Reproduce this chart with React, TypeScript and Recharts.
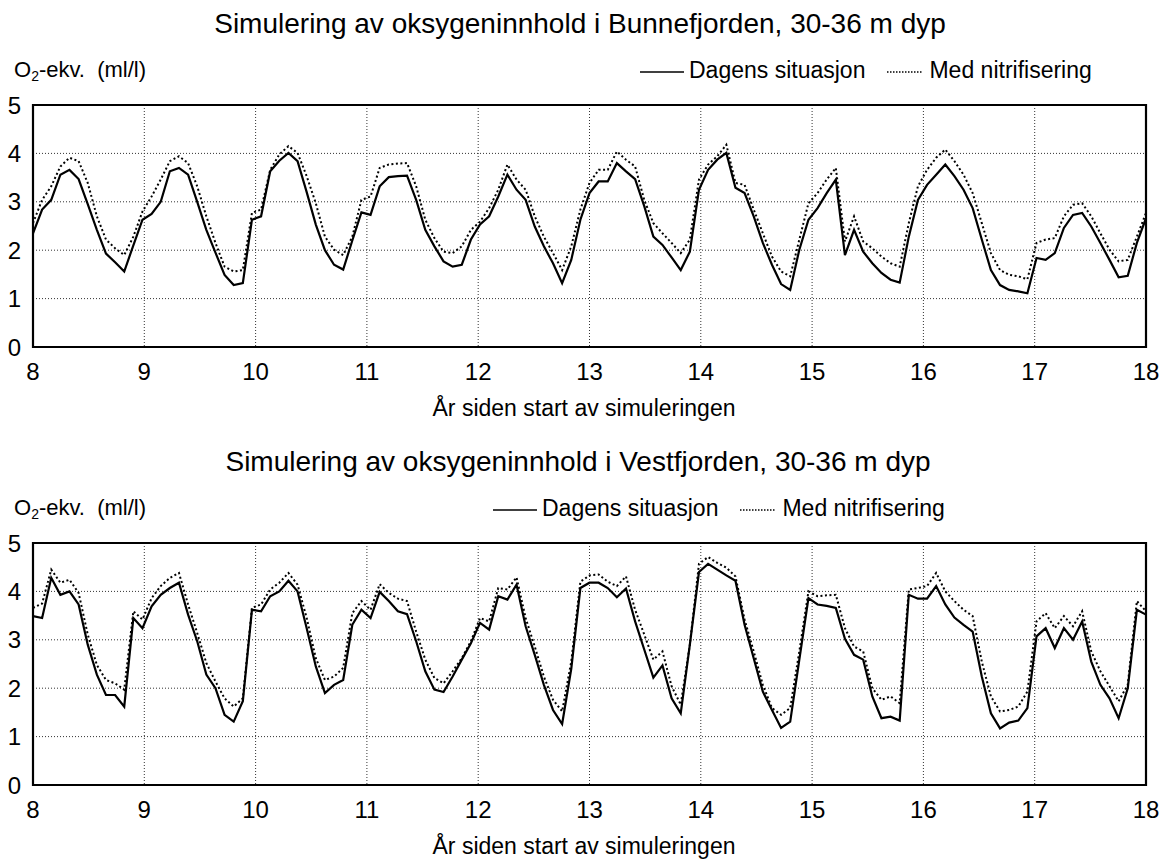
import { LineChart, Line, XAxis, YAxis, CartesianGrid, ReferenceArea } from 'recharts';

const FONT = '"Liberation Sans", Arial, Helvetica, sans-serif';

const yearTicks = [8, 9, 10, 11, 12, 13, 14, 15, 16, 17, 18];
const valueTicks = [0, 1, 2, 3, 4, 5];
const minorTicks = [0.5, 1.5, 2.5, 3.5, 4.5];

const seriesNames = { dagens: 'Dagens situasjon', med: 'Med nitrifisering' };
const xTitle = 'År siden start av simuleringen';

// Bunnefjorden, 30-36 m
const bunnDagens = [
    2.35, 2.84, 3.04, 3.56, 3.66, 3.47, 2.95, 2.42, 1.93, 1.75,
    1.56, 2.1, 2.63, 2.75, 3.0, 3.63, 3.7, 3.56, 3.0, 2.42,
    1.95, 1.49, 1.28, 1.32, 2.63, 2.7, 3.63, 3.85, 4.01, 3.84,
    3.2, 2.53, 2.0, 1.7, 1.6, 2.2, 2.78, 2.73, 3.32, 3.51,
    3.53, 3.54, 3.04, 2.42, 2.08, 1.77, 1.66, 1.7, 2.22, 2.53,
    2.7, 3.11, 3.56, 3.25, 3.04, 2.49, 2.08, 1.73, 1.32, 1.8,
    2.63, 3.18, 3.42, 3.42, 3.8, 3.63, 3.47, 2.91, 2.28, 2.11,
    1.85, 1.59, 1.97, 3.25, 3.66, 3.87, 4.01, 3.29, 3.18, 2.7,
    2.15, 1.7, 1.3, 1.18, 2.01, 2.63, 2.87, 3.18, 3.46, 1.9,
    2.42, 1.97, 1.73, 1.53, 1.39, 1.33, 2.28, 3.04, 3.35, 3.56,
    3.77, 3.53, 3.25, 2.87, 2.22, 1.59, 1.28, 1.18, 1.15, 1.11,
    1.84, 1.8, 1.94, 2.46, 2.73, 2.77, 2.49, 2.15, 1.8, 1.44,
    1.47, 2.15, 2.66,
];
const bunnMed = [
    2.56, 3.04, 3.32, 3.73, 3.91, 3.84, 3.39, 2.7, 2.22, 2.04,
    1.9, 2.28, 2.8, 3.11, 3.46, 3.84, 3.94, 3.8, 3.32, 2.7,
    2.15, 1.66, 1.56, 1.59, 2.77, 2.84, 3.66, 3.98, 4.15, 4.01,
    3.53, 2.97, 2.28, 2.01, 1.9, 2.28, 3.04, 3.11, 3.7, 3.77,
    3.79, 3.8, 3.32, 2.63, 2.25, 1.97, 1.94, 2.08, 2.42, 2.59,
    2.87, 3.25, 3.77, 3.46, 3.25, 2.7, 2.28, 1.94, 1.59, 2.08,
    2.84, 3.39, 3.66, 3.66, 4.04, 3.87, 3.73, 3.04, 2.56, 2.35,
    2.15, 1.94, 2.22, 3.46, 3.77, 3.94, 4.18, 3.39, 3.35, 2.84,
    2.35, 1.87, 1.56, 1.46, 2.22, 2.97, 3.18, 3.46, 3.7, 2.18,
    2.7, 2.18, 2.04, 1.87, 1.73, 1.66, 2.56, 3.32, 3.66, 3.91,
    4.08, 3.84, 3.56, 3.18, 2.56, 1.94, 1.59, 1.49, 1.46, 1.4,
    2.15, 2.22, 2.25, 2.7, 2.94, 2.97, 2.7, 2.35, 2.01, 1.77,
    1.8, 2.28, 2.77,
];

// Vestfjorden, 30-36 m
const vestDagens = [
    3.49, 3.45, 4.28, 3.93, 4.0, 3.73, 2.9, 2.28, 1.86, 1.86,
    1.62, 3.45, 3.24, 3.69, 3.93, 4.07, 4.18, 3.52, 2.97, 2.28,
    2.0, 1.45, 1.31, 1.73, 3.62, 3.59, 3.9, 4.0, 4.22, 4.0,
    3.24, 2.45, 1.9, 2.07, 2.17, 3.31, 3.62, 3.45, 3.99, 3.8,
    3.59, 3.53, 2.97, 2.35, 1.97, 1.92, 2.24, 2.59, 2.93, 3.35,
    3.21, 3.9, 3.83, 4.14, 3.28, 2.69, 2.07, 1.55, 1.26, 2.4,
    4.07, 4.18, 4.18, 4.07, 3.88, 4.06, 3.38, 2.8, 2.22, 2.47,
    1.79, 1.48, 2.9, 4.4, 4.57, 4.45, 4.33, 4.22, 3.31, 2.62,
    1.93, 1.55, 1.18, 1.31, 2.59, 3.86, 3.73, 3.7, 3.66, 3.02,
    2.69, 2.59, 1.83, 1.38, 1.41, 1.33, 3.93, 3.85, 3.85, 4.11,
    3.73, 3.46, 3.31, 3.17, 2.24, 1.48, 1.17, 1.29, 1.33, 1.59,
    3.07, 3.24, 2.83, 3.24, 3.0, 3.38, 2.55, 2.07, 1.79, 1.38,
    2.0, 3.62, 3.52,
];
const vestMed = [
    3.66, 3.75, 4.45, 4.18, 4.24, 3.97, 3.11, 2.48, 2.17, 2.1,
    1.97, 3.59, 3.42, 3.86, 4.11, 4.28, 4.38, 3.73, 3.14, 2.52,
    2.14, 1.79, 1.62, 1.79, 3.66, 3.73, 4.04, 4.18, 4.38, 4.14,
    3.45, 2.62, 2.17, 2.24, 2.42, 3.55, 3.8, 3.62, 4.15, 3.97,
    3.85, 3.8, 3.17, 2.59, 2.21, 2.1, 2.35, 2.62, 2.97, 3.45,
    3.38, 4.07, 4.04, 4.29, 3.45, 2.86, 2.24, 1.76, 1.52, 2.55,
    4.2, 4.33, 4.35, 4.2, 4.11, 4.31, 3.62, 3.11, 2.59, 2.76,
    2.04, 1.66, 2.9, 4.57, 4.71, 4.59, 4.49, 4.31, 3.42, 2.76,
    2.07, 1.59, 1.45, 1.59, 2.76, 4.0, 3.9, 3.92, 3.93, 3.24,
    2.86, 2.76, 2.0, 1.76, 1.83, 1.69, 4.04, 4.07, 4.11, 4.38,
    4.0, 3.8, 3.62, 3.49, 2.55, 1.83, 1.52, 1.55, 1.62, 1.93,
    3.38, 3.55, 3.24, 3.49, 3.28, 3.59, 2.76, 2.35, 2.04, 1.73,
    2.07, 3.8, 3.59,
];

// one model step is about 30 days: 122 steps from year 8 to year 18
const stepYears = 10 / 122;

type PanelProps = {
    top: number;
    title: string;
    titleCenter: number;
    legendLeft: number;
    dagens: number[];
    med: number[];
};

function LegendRow({ left }: { left: number }) {
    return (
        <div
            style={{
                position: 'absolute',
                left,
                top: 59,
                display: 'flex',
                alignItems: 'center',
                fontSize: 23,
                lineHeight: '23px',
                whiteSpace: 'nowrap',
            }}
        >
            <svg width={44} height={10}>
                <line x1={0} y1={6} x2={44} y2={6} stroke="#000" strokeWidth={1.6} />
            </svg>
            <span style={{ marginLeft: 5 }}>{seriesNames.dagens}</span>
            <svg width={36} height={10} style={{ marginLeft: 22 }}>
                <line x1={0} y1={6} x2={36} y2={6} stroke="#000" strokeWidth={1.4} strokeDasharray="1.5 1.5" />
            </svg>
            <span style={{ marginLeft: 6 }}>{seriesNames.med}</span>
        </div>
    );
}

function Panel({ top, title, titleCenter, legendLeft, dagens, med }: PanelProps) {
    const rows = dagens.map((v, i) => ({ year: 8 + i * stepYears, dagens: v, med: med[i] }));
    const tickStyle = { fill: '#000', fontSize: 24, fontFamily: FONT };

    return (
        <div style={{ position: 'absolute', left: 0, top, width: 1166, height: 430 }}>
            <LineChart
                width={1166}
                height={430}
                data={rows}
                margin={{ top: 105, right: 20, bottom: 43, left: 8 }}
            >
                <CartesianGrid stroke="#333" strokeWidth={1} strokeDasharray="1 2" />
                <XAxis
                    dataKey="year"
                    type="number"
                    domain={[8, 18]}
                    ticks={yearTicks}
                    interval={0}
                    allowDataOverflow
                    axisLine={false}
                    tickLine={false}
                    tickSize={0}
                    tickMargin={16}
                    height={40}
                    tick={tickStyle}
                />
                <YAxis
                    domain={[0, 5]}
                    ticks={valueTicks}
                    interval={0}
                    width={25}
                    axisLine={false}
                    tickLine={false}
                    tickSize={0}
                    tickMargin={12}
                    tick={tickStyle}
                />
                <YAxis
                    yAxisId="minorL"
                    orientation="left"
                    mirror
                    domain={[0, 5]}
                    ticks={minorTicks}
                    interval={0}
                    axisLine={false}
                    tick={false}
                    tickSize={4}
                    tickLine={{ stroke: '#000', strokeWidth: 1.5 }}
                />
                <YAxis
                    yAxisId="minorR"
                    orientation="right"
                    mirror
                    domain={[0, 5]}
                    ticks={minorTicks}
                    interval={0}
                    axisLine={false}
                    tick={false}
                    tickSize={4}
                    tickLine={{ stroke: '#000', strokeWidth: 1.5 }}
                />
                <Line
                    dataKey="med"
                    type="linear"
                    stroke="#000"
                    strokeWidth={2}
                    strokeDasharray="2 2.5"
                    dot={false}
                    isAnimationActive={false}
                />
                <Line
                    dataKey="dagens"
                    type="linear"
                    stroke="#000"
                    strokeWidth={2.2}
                    dot={false}
                    isAnimationActive={false}
                />
                <ReferenceArea x1={8} x2={18} y1={0} y2={5} fill="none" stroke="#000" strokeWidth={2.2} />
            </LineChart>

            <div
                style={{
                    position: 'absolute',
                    left: 0,
                    width: titleCenter * 2,
                    top: 10,
                    textAlign: 'center',
                    fontSize: 28,
                    lineHeight: '28px',
                    whiteSpace: 'nowrap',
                }}
            >
                {title}
            </div>
            <div style={{ position: 'absolute', left: 14, top: 59, fontSize: 22, lineHeight: '22px', whiteSpace: 'pre' }}>
                O<sub style={{ fontSize: 14, lineHeight: 0, verticalAlign: '-4px' }}>2</sub>-ekv.  (ml/l)
            </div>
            <LegendRow left={legendLeft} />
            <div
                style={{
                    position: 'absolute',
                    left: 0,
                    width: 1168,
                    top: 397,
                    textAlign: 'center',
                    fontSize: 23,
                    lineHeight: '23px',
                    whiteSpace: 'nowrap',
                }}
            >
                {xTitle}
            </div>
        </div>
    );
}

export default function App() {
    return (
        <div
            style={{
                position: 'absolute',
                left: 0,
                top: 0,
                width: 1166,
                height: 860,
                background: '#fff',
                color: '#000',
                fontFamily: FONT,
                overflow: 'hidden',
            }}
        >
            <Panel
                top={0}
                title="Simulering av oksygeninnhold i Bunnefjorden, 30-36 m dyp"
                titleCenter={580}
                legendLeft={640}
                dagens={bunnDagens}
                med={bunnMed}
            />
            <Panel
                top={438}
                title="Simulering av oksygeninnhold i Vestfjorden, 30-36 m dyp"
                titleCenter={578}
                legendLeft={493}
                dagens={vestDagens}
                med={vestMed}
            />
        </div>
    );
}
